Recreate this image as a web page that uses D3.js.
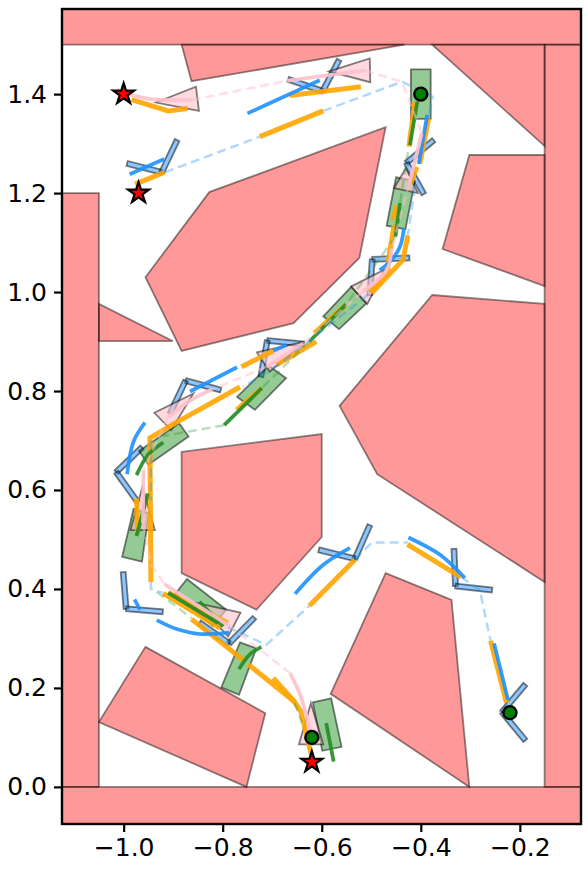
<!DOCTYPE html>
<html><head><meta charset="utf-8">
<script src="https://cdnjs.cloudflare.com/ajax/libs/d3/7.8.5/d3.min.js"></script>
<style>html,body{margin:0;padding:0;background:#fff}svg{display:block}</style>
</head><body><svg id="c" width="588" height="870"></svg>
<script>
const xTicks=[-1.0,-0.8,-0.6,-0.4,-0.2];
const yTicks=[0,0.2,0.4,0.6,0.8,1.0,1.2,1.4];
const obstacles=[
[[-1.15,1.5],[-0.05,1.5],[-0.05,1.6],[-1.15,1.6]],
[[-1.15,-0.1],[-0.05,-0.1],[-0.05,0],[-1.15,0]],
[[-1.15,0],[-1.05,0],[-1.05,1.2],[-1.15,1.2]],
[[-0.15,0],[-0.05,0],[-0.05,1.5],[-0.15,1.5]],
[[-0.883,1.5],[-0.433,1.5],[-0.863,1.426]],
[[-0.377,1.5],[-0.15,1.5],[-0.15,1.295]],
[[-0.302,1.277],[-0.15,1.277],[-0.15,1.012],[-0.356,1.087]],
[[-0.956,1.03],[-0.827,1.202],[-0.471,1.333],[-0.524,1.069],[-0.657,0.937],[-0.883,0.881]],
[[-1.05,0.976],[-0.901,0.901],[-1.05,0.901]],
[[-0.377,0.994],[-0.15,0.976],[-0.15,0.414],[-0.488,0.632],[-0.564,0.77]],
[[-0.883,0.677],[-0.6,0.713],[-0.6,0.505],[-0.732,0.358],[-0.883,0.432]],
[[-0.471,0.432],[-0.338,0.378],[-0.302,0],[-0.582,0.188]],
[[-0.956,0.283],[-0.714,0.149],[-0.752,0],[-1.05,0.131]]
];
const blueArms=[
[[-0.993,1.260],[-0.923,1.242],[-0.892,1.307]],
[[-0.668,1.430],[-0.598,1.406],[-0.565,1.469]],
[[-0.374,1.307],[-0.429,1.261],[-0.394,1.198]],
[[-0.423,1.069],[-0.498,1.066],[-0.503,0.994]],
[[-0.636,0.895],[-0.710,0.902],[-0.723,0.829]],
[[-0.804,0.802],[-0.875,0.821],[-0.906,0.755]],
[[-0.963,0.686],[-1.015,0.636],[-0.972,0.576]],
[[-1.001,0.434],[-0.995,0.360],[-0.921,0.354]],
[[-0.736,0.342],[-0.787,0.290],[-0.847,0.332]],
[[-0.503,0.529],[-0.533,0.461],[-0.606,0.479]],
[[-0.333,0.481],[-0.330,0.406],[-0.256,0.398]],
[[-0.189,0.207],[-0.236,0.151],[-0.189,0.094]]
];
const greenBoxes=[
[[-0.42,1.45],[-0.38,1.45],[-0.38,1.35],[-0.42,1.35]],
[[-0.450,1.232],[-0.412,1.224],[-0.431,1.127],[-0.469,1.134]],
[[-0.540,1.011],[-0.510,0.977],[-0.565,0.925],[-0.597,0.951]],
[[-0.707,0.851],[-0.672,0.826],[-0.735,0.762],[-0.771,0.788]],
[[-0.888,0.735],[-0.869,0.708],[-0.950,0.651],[-0.969,0.679]],
[[-0.980,0.562],[-0.949,0.553],[-0.963,0.455],[-1.003,0.465]],
[[-0.872,0.420],[-0.793,0.358],[-0.820,0.325],[-0.896,0.390]],
[[-0.765,0.292],[-0.732,0.280],[-0.767,0.186],[-0.803,0.201]],
[[-0.618,0.171],[-0.581,0.179],[-0.560,0.081],[-0.599,0.073]]
];
const pinkTriangles=[
[[-0.935,1.383],[-0.854,1.415],[-0.848,1.366]],
[[-0.585,1.446],[-0.503,1.472],[-0.502,1.424]],
[[-0.430,1.250],[-0.454,1.210],[-0.406,1.200]],
[[-0.472,1.046],[-0.541,1.011],[-0.508,0.976]],
[[-0.634,0.900],[-0.731,0.878],[-0.705,0.839]],
[[-0.859,0.795],[-0.938,0.756],[-0.904,0.721]],
[[-0.962,0.607],[-0.986,0.519],[-0.937,0.519]],
[[-0.854,0.372],[-0.764,0.352],[-0.789,0.304]],
[[-0.622,0.169],[-0.646,0.086],[-0.597,0.086]]
];
const orangePaths=[
[[-0.984,1.389],[-0.910,1.366],[-0.871,1.371]],
[[-0.977,1.218],[-0.917,1.242]],
[[-0.665,1.397],[-0.521,1.415]],
[[-0.725,1.314],[-0.597,1.366]],
[[-0.412,1.384],[-0.424,1.294]],
[[-0.384,1.351],[-0.402,1.259]],
[[-0.408,1.253],[-0.420,1.220]],
[[-0.449,1.174],[-0.456,1.145]],
[[-0.454,1.135],[-0.466,1.061],[-0.466,1.039],[-0.503,1.000]],
[[-0.426,1.115],[-0.436,1.065],[-0.499,0.998]],
[[-0.551,0.974],[-0.615,0.917]],
[[-0.611,0.900],[-0.691,0.853]],
[[-0.698,0.881],[-0.762,0.849]],
[[-0.721,0.806],[-0.772,0.762]],
[[-0.765,0.808],[-0.896,0.735],[-0.947,0.705],[-0.945,0.414]],
[[-0.974,0.583],[-0.972,0.509]],
[[-0.920,0.391],[-0.805,0.321]],
[[-0.910,0.393],[-0.790,0.331]],
[[-0.863,0.339],[-0.759,0.257]],
[[-0.749,0.248],[-0.655,0.172],[-0.642,0.152],[-0.621,0.065]],
[[-0.698,0.220],[-0.655,0.172]],
[[-0.625,0.366],[-0.533,0.459]],
[[-0.427,0.490],[-0.319,0.424]],
[[-0.259,0.295],[-0.227,0.170]]
];
const bluePaths=[
[[-0.988,1.238],[-0.918,1.269]],
[[-0.750,1.361],[-0.691,1.388],[-0.604,1.428]],
[[-0.387,1.358],[-0.404,1.259]],
[[-0.434,1.129],[-0.442,1.092],[-0.459,1.065],[-0.483,1.044]],
[[-0.671,0.893],[-0.698,0.881]],
[[-0.771,0.848],[-0.866,0.799]],
[[-0.957,0.736],[-0.980,0.698],[-0.993,0.632]],
[[-0.978,0.379],[-0.967,0.358]],
[[-0.933,0.337],[-0.893,0.319],[-0.846,0.309],[-0.787,0.312]],
[[-0.654,0.390],[-0.598,0.448],[-0.543,0.483]],
[[-0.425,0.504],[-0.361,0.469],[-0.311,0.422]],
[[-0.252,0.290],[-0.224,0.176]]
];
const greenPaths=[
[[-0.407,1.385],[-0.422,1.297]],
[[-0.442,1.180],[-0.451,1.112]],
[[-0.551,0.975],[-0.625,0.900]],
[[-0.721,0.806],[-0.797,0.731]],
[[-0.920,0.696],[-0.951,0.671],[-0.974,0.630]],
[[-0.951,0.593],[-0.974,0.507]],
[[-0.847,0.374],[-0.799,0.324]],
[[-0.910,0.392],[-0.809,0.331]],
[[-0.722,0.283],[-0.746,0.267],[-0.767,0.238]],
[[-0.591,0.129],[-0.576,0.051]]
];
const pinkPaths=[
[[-1.014,1.409],[-0.953,1.391],[-0.863,1.388]],
[[-0.670,1.427],[-0.513,1.448]],
[[-0.398,1.321],[-0.423,1.220]],
[[-0.459,1.088],[-0.469,1.044],[-0.517,1.001]],
[[-0.637,0.896],[-0.711,0.849]],
[[-0.822,0.803],[-0.860,0.784],[-0.910,0.748]],
[[-0.960,0.640],[-0.961,0.533]],
[[-0.918,0.410],[-0.789,0.327]],
[[-0.664,0.230],[-0.642,0.182],[-0.621,0.102]]
];
const blueDashes=[
[[-0.917,1.242],[-0.725,1.314]],
[[-0.597,1.366],[-0.438,1.425],[-0.376,1.395],[-0.384,1.351]],
[[-0.412,1.212],[-0.426,1.115]],
[[-0.507,0.994],[-0.577,0.939],[-0.681,0.857],[-0.759,0.808]],
[[-0.945,0.70],[-0.945,0.58]],
[[-0.945,0.414],[-0.945,0.400],[-0.920,0.392]],
[[-0.790,0.323],[-0.712,0.287],[-0.625,0.366]],
[[-0.533,0.459],[-0.499,0.494],[-0.426,0.494]],
[[-0.319,0.424],[-0.281,0.398],[-0.259,0.295]]
];
const greenDashes=[
[[-0.797,0.731],[-0.920,0.709]],
[[-0.451,1.112],[-0.551,0.975]],
[[-0.625,0.900],[-0.721,0.806]],
[[-0.426,1.283],[-0.442,1.180]],
[[-0.933,0.394],[-0.863,0.341]],
[[-0.655,0.170],[-0.640,0.130]]
];
const pinkDashes=[
[[-0.863,1.388],[-0.670,1.427]],
[[-0.513,1.448],[-0.438,1.425],[-0.398,1.321]],
[[-0.423,1.220],[-0.459,1.088]],
[[-0.517,1.001],[-0.637,0.896]],
[[-0.711,0.849],[-0.822,0.803]],
[[-0.910,0.748],[-0.960,0.640]],
[[-0.961,0.533],[-0.945,0.45],[-0.918,0.410]],
[[-0.789,0.327],[-0.664,0.230]]
];
const startStars=[[-1.0,1.4],[-0.97,1.2],[-0.62,0.05]];
const goalDots=[[-0.4,1.4],[-0.22,0.15],[-0.62,0.1]];
const armWidth=0.010;

const L=62,R=581,T=9,B=824;
const x=d3.scaleLinear().domain([-1.1245,-0.0765]).range([L,R]);
const y=d3.scaleLinear().domain([-0.075,1.572]).range([B,T]);
const svg=d3.select('#c');
svg.append('defs').append('clipPath').attr('id','ax').append('rect')
  .attr('x',L).attr('y',T).attr('width',R-L).attr('height',B-T);
const plot=svg.append('g').attr('clip-path','url(#ax)');
const poly=d=>d.map(p=>x(p[0])+','+y(p[1])).join(' ');
const line=d3.line().x(p=>x(p[0])).y(p=>y(p[1]));
const smooth=d3.line().x(p=>x(p[0])).y(p=>y(p[1])).curve(d3.curveCatmullRom.alpha(0.5));

plot.selectAll('.obs').data(obstacles).join('polygon').attr('class','obs').attr('points',poly)
  .attr('fill','#ff0000').attr('fill-opacity',0.4).attr('stroke','#000').attr('stroke-opacity',0.45).attr('stroke-width',1.8);

function seg(a,b){
  const dx=b[0]-a[0],dy=b[1]-a[1],n=Math.hypot(dx,dy),ox=-dy/n*armWidth/2,oy=dx/n*armWidth/2;
  return [[a[0]+ox,a[1]+oy],[b[0]+ox,b[1]+oy],[b[0]-ox,b[1]-oy],[a[0]-ox,a[1]-oy]];
}
const armRects=blueArms.flatMap(a=>[seg(a[1],a[0]),seg(a[1],a[2])]);
plot.selectAll('.arm').data(armRects).join('polygon').attr('class','arm').attr('points',poly)
  .attr('fill','#1e90ff').attr('fill-opacity',0.5).attr('stroke','#000').attr('stroke-opacity',0.5).attr('stroke-width',1.8);
plot.selectAll('.box').data(greenBoxes).join('polygon').attr('class','box').attr('points',poly)
  .attr('fill','#008000').attr('fill-opacity',0.42).attr('stroke','#000').attr('stroke-opacity',0.5).attr('stroke-width',1.8);
plot.selectAll('.tri').data(pinkTriangles).join('polygon').attr('class','tri').attr('points',poly)
  .attr('fill','#ffc0cb').attr('fill-opacity',0.6).attr('stroke','#000').attr('stroke-opacity',0.5).attr('stroke-width',1.8);

function paths(data,gen,color,w,op,dash){
  const s=plot.append('g').selectAll('path').data(data).join('path').attr('d',gen)
    .attr('fill','none').attr('stroke',color).attr('stroke-width',w).attr('stroke-opacity',op);
  if(dash) s.attr('stroke-dasharray',dash);
}
paths(orangePaths,line,'#ffa500',5,0.9);
paths(bluePaths,smooth,'#1e90ff',3.7,0.9);
paths(greenPaths,smooth,'#228b22',3.7,0.9);
paths(pinkPaths,smooth,'#ffc0cb',3.7,0.9);
paths(blueDashes,line,'#1e90ff',2.5,0.35,'9 5');
paths(greenDashes,line,'#228b22',2.5,0.3,'9 5');
paths(pinkDashes,line,'#ffc0cb',2.5,0.5,'9 5');

const star=d3.symbol().type(d3.symbolStar).size(135);
plot.selectAll('.star').data(startStars).join('path').attr('class','star').attr('d',star)
  .attr('transform',d=>`translate(${x(d[0])},${y(d[1])})`)
  .attr('fill','#ff0000').attr('stroke','#000').attr('stroke-width',2.2);
plot.selectAll('.dot').data(goalDots).join('circle').attr('class','dot')
  .attr('cx',d=>x(d[0])).attr('cy',d=>y(d[1])).attr('r',6.5)
  .attr('fill','#008000').attr('stroke','#000').attr('stroke-width',2.4);

const gx=svg.append('g').attr('transform',`translate(0,${B})`)
  .call(d3.axisBottom(x).tickValues(xTicks).tickFormat(d3.format('.1f')).tickSizeOuter(0).tickSize(8).tickPadding(6));
const gy=svg.append('g').attr('transform',`translate(${L},0)`)
  .call(d3.axisLeft(y).tickValues(yTicks).tickFormat(d3.format('.1f')).tickSizeOuter(0).tickSize(8).tickPadding(7));
[gx,gy].forEach(g=>{
  g.select('.domain').remove();
  g.selectAll('.tick line').attr('stroke','#000').attr('stroke-width',2.2);
  g.selectAll('text').attr('fill','#000').style('font-family','"DejaVu Sans"').style('font-size','25px');
});
svg.append('rect').attr('x',L).attr('y',T).attr('width',R-L).attr('height',B-T)
  .attr('fill','none').attr('stroke','#000').attr('stroke-width',2.4);
</script></body></html>
